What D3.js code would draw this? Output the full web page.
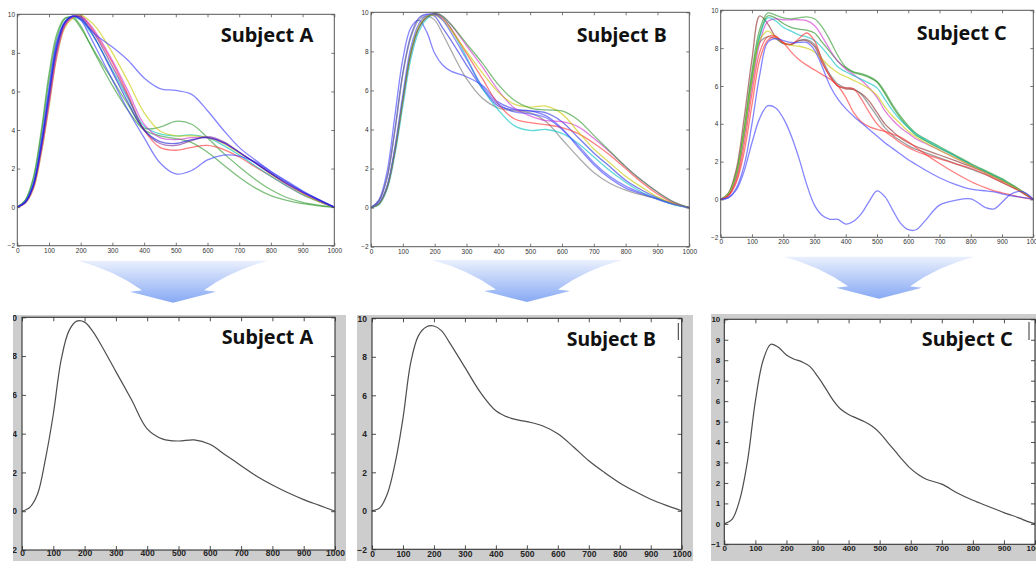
<!DOCTYPE html>
<html><head><meta charset="utf-8">
<script src="https://cdn.jsdelivr.net/npm/d3@7"></script>
<style>body{margin:0;background:#fff}svg{display:block}</style>
</head><body>
<svg id="c" width="1036" height="561"></svg>
<script>
// ---------------- DATA ----------------
const xTicks = [0,100,200,300,400,500,600,700,800,900,1000];
const yTicksTop = [-2,0,2,4,6,8,10];
const yTicksBottomAB = [-2,0,2,4,6,8,10];
const yTicksBottomC = [-1,0,1,2,3,4,5,6,7,8,9,10];
const subjectNames = ["Subject A","Subject B","Subject C"];

const gridAB = [0,25,50,75,100,125,150,175,200,225,250,300,350,400,450,500,550,600,650,700,750,800,850,900,950,1000];
const gridC = [0,25,50,75,100,125,150,175,200,225,250,275,300,325,350,375,400,425,450,475,500,525,550,575,600,625,650,700,750,800,850,875,900,925,950,975,1000];

// Subject A individual trials (top-left)
const colorsA = ["#2e9a2e","#2e9a2e","#ff3030","#00c0c0","#c8c800","#d030d0","#7a2a9a","#3a3aff","#3a3aff","#1a1ad0"];
const trialsA = [
  [0,0.35,1.5,3.9,6.9,9.0,9.8,9.8,9.3,8.6,7.9,6.6,5.3,4.1,4.15,4.45,4.3,3.6,2.8,2.1,1.45,0.9,0.5,0.25,0.1,0],
  [0,0.35,1.4,3.7,6.6,8.8,9.75,9.85,9.4,8.6,7.8,6.3,5.0,4.0,3.7,3.55,3.35,2.85,2.2,1.55,1.0,0.6,0.35,0.18,0.07,0],
  [0,0.25,1.0,2.9,5.4,8.0,9.4,9.85,9.9,9.5,8.9,7.5,5.8,4.0,3.1,2.95,3.1,3.2,3.0,2.6,2.1,1.6,1.1,0.65,0.3,0],
  [0,0.3,1.15,3.2,5.9,8.4,9.6,9.85,9.7,9.2,8.6,7.1,5.6,4.2,3.8,3.7,3.75,3.6,3.2,2.7,2.15,1.6,1.1,0.65,0.3,0],
  [0,0.2,0.9,2.7,5.2,7.8,9.3,9.8,9.95,9.7,9.3,8.0,6.5,4.9,3.95,3.7,3.7,3.6,3.3,2.8,2.3,1.7,1.2,0.7,0.3,0],
  [0,0.2,0.95,2.8,5.3,7.9,9.4,9.85,9.9,9.55,9.0,7.6,6.0,4.3,3.6,3.5,3.6,3.6,3.35,2.85,2.3,1.75,1.2,0.75,0.35,0],
  [0,0.25,1.05,3.0,5.6,8.2,9.5,9.9,9.85,9.4,8.8,7.3,5.7,4.0,3.3,3.2,3.45,3.65,3.4,2.85,2.3,1.75,1.2,0.75,0.35,0],
  [0,0.25,1.1,3.2,6.0,8.5,9.6,9.9,9.75,9.3,8.9,8.3,7.6,6.7,6.15,6.05,5.85,5.0,4.0,3.1,2.45,1.85,1.3,0.8,0.38,0],
  [0,0.3,1.2,3.4,6.2,8.6,9.6,9.9,9.7,9.0,8.2,6.6,5.0,3.6,2.3,1.72,1.9,2.45,2.7,2.65,2.35,1.85,1.35,0.85,0.4,0],
  [0,0.25,1.1,3.1,5.8,8.3,9.55,9.9,9.8,9.3,8.6,7.0,5.4,4.0,3.4,3.3,3.5,3.6,3.35,2.85,2.3,1.75,1.25,0.8,0.4,0]
];

// Subject B individual trials (top-middle)
const colorsB = ["#3a3aff","#2a2ae0","#777777","#00c0c0","#ff3030","#d030d0","#c8c800","#2e9a2e","#4a4aff"];
const trialsB = [
  [0,0.4,1.8,4.7,7.6,9.2,9.6,9.0,7.9,7.3,7.0,6.7,6.25,5.4,5.05,4.95,4.7,4.05,3.1,2.2,1.5,1.0,0.7,0.42,0.17,0],
  [0,0.35,1.5,4.0,6.9,8.8,9.7,9.9,9.8,9.2,8.6,7.3,6.1,5.2,5.0,4.95,4.85,4.4,3.6,2.8,2.1,1.4,0.9,0.5,0.2,0],
  [0,0.35,1.5,3.9,6.8,8.7,9.6,9.8,9.6,8.9,8.1,6.6,5.6,5.1,4.95,4.85,4.4,3.5,2.6,1.8,1.25,0.9,0.65,0.45,0.2,0],
  [0,0.15,0.9,2.7,5.2,7.6,9.0,9.65,9.9,9.75,9.2,7.7,6.1,5.0,4.2,3.95,4.0,3.8,3.3,2.6,1.9,1.3,0.8,0.45,0.15,0],
  [0,0.2,1.0,2.9,5.5,7.9,9.2,9.75,9.9,9.7,9.2,7.9,6.6,5.3,4.55,4.35,4.25,4.1,3.8,3.3,2.7,2.0,1.3,0.7,0.25,0],
  [0,0.2,1.0,2.9,5.5,7.9,9.2,9.75,9.95,9.8,9.4,8.3,7.2,6.0,5.1,4.7,4.45,4.4,4.15,3.55,2.85,2.1,1.4,0.8,0.3,0],
  [0,0.2,1.05,3.0,5.6,8.0,9.3,9.8,9.85,9.6,9.1,8.0,6.9,5.9,5.3,5.15,5.2,4.8,3.9,3.0,2.3,1.6,1.05,0.55,0.2,0],
  [0,0.2,1.0,2.9,5.5,7.9,9.2,9.75,9.95,9.8,9.4,8.4,7.4,6.3,5.5,5.1,5.0,4.95,4.5,3.7,2.9,2.1,1.4,0.8,0.3,0],
  [0,0.25,1.1,3.1,5.8,8.2,9.4,9.85,9.9,9.6,9.0,7.6,6.2,5.3,4.9,4.8,4.6,4.0,3.2,2.3,1.6,1.1,0.75,0.45,0.18,0]
];

// Subject C individual trials (top-right)
const colorsC = ["#8a2a2a","#666666","#2e9a2e","#1e8a1e","#d030d0","#00c0c0","#c8c800","#ff3030","#ff3030","#3a3aff","#3a3aff"];
const trialsC = [
  [0,0.35,1.6,4.3,7.4,9.7,9.3,8.6,8.25,8.2,8.4,8.4,8.1,7.2,6.5,6.0,5.85,5.8,5.6,5.2,4.6,4.0,3.6,3.25,3.0,2.8,2.65,2.35,2.05,1.75,1.4,1.2,1.0,0.8,0.55,0.3,0],
  [0,0.25,1.2,3.4,6.3,8.3,8.6,8.5,8.25,8.2,8.4,8.45,8.2,7.4,6.6,6.1,5.9,5.85,5.55,5.0,4.4,3.8,3.4,3.1,2.85,2.65,2.5,2.2,1.9,1.6,1.3,1.1,0.9,0.7,0.5,0.25,0],
  [0,0.3,1.4,3.8,6.8,9.0,9.85,9.75,9.6,9.55,9.6,9.65,9.55,9.1,8.4,7.6,7.0,6.75,6.65,6.5,6.25,5.7,5.0,4.4,3.9,3.5,3.25,2.8,2.35,1.9,1.5,1.3,1.1,0.85,0.6,0.3,0],
  [0,0.3,1.35,3.6,6.5,8.7,9.7,9.6,9.3,9.1,9.0,8.95,8.8,8.3,7.8,7.3,6.95,6.7,6.6,6.45,6.2,5.6,4.9,4.3,3.8,3.4,3.15,2.7,2.3,1.85,1.45,1.25,1.05,0.8,0.55,0.28,0],
  [0,0.25,1.2,3.3,6.0,8.3,9.4,9.55,9.5,9.5,9.5,9.45,9.2,8.6,7.9,7.3,6.9,6.6,6.3,5.9,5.4,4.7,4.2,3.8,3.5,3.2,3.0,2.6,2.2,1.8,1.4,1.2,1.0,0.78,0.55,0.28,0],
  [0,0.3,1.3,3.5,6.3,8.6,9.6,9.45,9.1,8.9,8.7,8.6,8.4,8.0,7.5,7.0,6.75,6.55,6.35,6.15,5.9,5.3,4.7,4.2,3.8,3.45,3.2,2.75,2.3,1.85,1.45,1.25,1.05,0.8,0.55,0.28,0],
  [0,0.3,1.3,3.5,6.3,8.4,8.9,8.6,8.3,8.15,8.1,8.0,7.8,7.4,7.0,6.7,6.5,6.3,6.1,5.85,5.5,4.9,4.4,4.0,3.6,3.3,3.05,2.6,2.2,1.8,1.4,1.2,1.0,0.78,0.55,0.28,0],
  [0,0.2,1.0,2.9,5.6,7.8,8.6,8.65,8.3,8.2,8.5,8.8,8.4,7.3,6.5,6.0,5.9,5.85,5.3,4.6,4.0,3.6,3.3,3.0,2.75,2.55,2.4,2.15,1.9,1.65,1.3,1.1,0.9,0.7,0.5,0.25,0],
  [0,0.2,0.9,2.5,5.0,7.4,8.4,8.6,8.3,7.8,7.4,7.1,6.85,6.6,6.35,6.0,5.4,4.6,4.1,3.85,3.7,3.6,3.45,3.3,3.05,2.75,2.45,1.9,1.4,0.95,0.6,0.45,0.35,0.25,0.15,0.07,0],
  [0,0.1,0.6,1.8,4.0,6.6,8.3,8.5,8.4,8.3,8.3,8.3,7.9,7.0,6.0,5.3,4.8,4.4,4.05,3.7,3.35,3.0,2.7,2.4,2.1,1.85,1.6,1.15,0.8,0.55,0.45,0.4,0.3,0.2,0.15,0.08,0],
  [0,0.1,0.5,1.5,3.0,4.3,4.95,4.85,4.3,3.4,2.2,0.8,-0.3,-0.85,-1.05,-1.05,-1.3,-1.15,-0.75,-0.1,0.45,0.15,-0.55,-1.25,-1.6,-1.6,-1.2,-0.3,-0.05,0.03,-0.45,-0.5,-0.15,0.25,0.42,0.35,0]
];

// Averaged curves (bottom row)
const meanA = [0,0.2,0.9,2.7,5.0,7.8,9.3,9.8,9.75,9.3,8.65,7.2,5.75,4.25,3.72,3.62,3.68,3.45,2.9,2.35,1.8,1.35,0.95,0.6,0.3,0];
const meanB = [0,0.15,0.9,2.5,4.8,7.7,9.1,9.55,9.6,9.35,8.75,7.45,6.15,5.2,4.8,4.63,4.42,4.0,3.33,2.6,2.0,1.45,1.0,0.6,0.28,0];
const meanC = [0,0.22,1.2,3.1,6.0,8.0,8.78,8.62,8.25,8.05,7.92,7.7,7.22,6.65,6.05,5.6,5.35,5.17,5.0,4.78,4.45,4.0,3.55,3.1,2.7,2.4,2.18,1.94,1.51,1.15,0.85,0.7,0.55,0.42,0.28,0.12,0];

// ---------------- LAYOUT ----------------
const panels = [
  {id:"tA", x0:17.3, x1:334.3, yTop:14.3, yBot:245.7, yDom:[-2,10], yTicks:yTicksTop, grid:gridAB, series:trialsA, colors:colorsA, top:true,
   title:subjectNames[0], tx:220.7, ty:41.7, tw:92.6},
  {id:"tB", x0:371, x1:689.3, yTop:12.3, yBot:246.7, yDom:[-2,10], yTicks:yTicksTop, grid:gridAB, series:trialsB, colors:colorsB, top:true,
   title:subjectNames[1], tx:576.7, ty:41.7, tw:90},
  {id:"tC", x0:720.7, x1:1033.3, yTop:10.3, yBot:237.3, yDom:[-2,10], yTicks:yTicksTop, grid:gridC, series:trialsC, colors:colorsC, top:true,
   title:subjectNames[2], tx:916.7, ty:39.6, tw:90},
  {id:"bA", x0:22, x1:335, yTop:317.3, yBot:550, yDom:[-2,10], yTicks:yTicksBottomAB, grid:gridAB, series:[meanA], colors:["#3a3a3a"], top:false,
   bg:[13,315,333,246], fs:8.5, title:subjectNames[0], tx:221.7, ty:344.3, tw:91.6, ypad:5, xpad:0},
  {id:"bB", x0:372, x1:681.7, yTop:318.3, yBot:549.3, yDom:[-2,10], yTicks:yTicksBottomAB, grid:gridAB, series:[meanB], colors:["#3a3a3a"], top:false,
   bg:[357,315,336,246], fs:8.5, title:subjectNames[1], tx:566.7, ty:346, tw:89.3, ypad:5, xpad:1.5, cursor:[678.3,323,340]},
  {id:"bC", x0:724.3, x1:1035, yTop:319.3, yBot:544.3, yDom:[-1,10], yTicks:yTicksBottomC, grid:gridC, series:[meanC], colors:["#3a3a3a"], top:false,
   bg:[711,314,325,247], fs:8, title:subjectNames[2], tx:921.7, ty:346, tw:91, ypad:4, xpad:1.5, cursor:[1029,322,340]}
];

const arrows = [
  {cx:173, top:260.7},
  {cx:527, top:260},
  {cx:879, top:256.7}
];

const svg = d3.select("#c");
const defs = svg.append("defs");
const grad = defs.append("linearGradient").attr("id","arrowGrad")
  .attr("x1",0).attr("y1",0).attr("x2",0).attr("y2",1);
grad.append("stop").attr("offset","0%").attr("stop-color","#eaf0fd");
grad.append("stop").attr("offset","100%").attr("stop-color","#87a9f4");

// arrows
arrows.forEach(a => {
  const c = a.cx, t = a.top;
  const p = d3.path();
  p.moveTo(c-95, t);
  p.lineTo(c+95, t);
  p.quadraticCurveTo(c+58, t+10, c+31, t+29.5);
  p.lineTo(c+43, t+31);
  p.lineTo(c, t+42);
  p.lineTo(c-43, t+31);
  p.lineTo(c-31, t+29.5);
  p.quadraticCurveTo(c-58, t+10, c-95, t);
  p.closePath();
  svg.append("path").attr("d", p.toString()).attr("fill","url(#arrowGrad)");
});

const fmt = d3.format("d");

panels.forEach(P => {
  const g = svg.append("g");
  if (P.bg) {
    defs.append("clipPath").attr("id", P.id+"clip").append("rect")
      .attr("x",P.bg[0]).attr("y",P.bg[1]).attr("width",P.bg[2]).attr("height",P.bg[3]);
    g.attr("clip-path", `url(#${P.id}clip)`);
    g.append("rect").attr("x",P.bg[0]).attr("y",P.bg[1]).attr("width",P.bg[2]).attr("height",P.bg[3])
      .attr("fill","#cdcdcd");
  }
  const x = d3.scaleLinear().domain([0,1000]).range([P.x0,P.x1]);
  const y = d3.scaleLinear().domain(P.yDom).range([P.yBot,P.yTop]);
  g.append("rect").attr("x",P.x0).attr("y",P.yTop).attr("width",P.x1-P.x0).attr("height",P.yBot-P.yTop)
    .attr("fill","#fff");

  const line = d3.line().x((d,i)=>x(P.grid[i])).y(d=>y(d)).curve(d3.curveCatmullRom.alpha(0.5));
  P.series.forEach((s,i) => {
    g.append("path").attr("d", line(s)).attr("fill","none")
      .attr("stroke", P.colors[i])
      .attr("stroke-width", P.top ? 1.3 : 1.2)
      .attr("stroke-opacity", P.top ? 0.62 : 0.9);
  });

  const tickLen = P.top ? 3 : 4;
  const fontSize = P.top ? 6.5 : P.fs;
  const fontWeight = P.top ? "normal" : "bold";
  const txtColor = P.top ? "#333" : "#222";
  const axColor = P.top ? "#555" : "#222";

  const xb = g.append("g").attr("transform",`translate(0,${P.yBot})`)
    .call(d3.axisBottom(x).tickValues(xTicks).tickFormat(fmt).tickSizeInner(-tickLen).tickSizeOuter(0).tickPadding(P.top?2.5:P.xpad));
  const xt = g.append("g").attr("transform",`translate(0,${P.yTop})`)
    .call(d3.axisTop(x).tickValues(xTicks).tickSizeInner(-tickLen).tickSizeOuter(0).tickFormat(""));
  const yl = g.append("g").attr("transform",`translate(${P.x0},0)`)
    .call(d3.axisLeft(y).tickValues(P.yTicks).tickFormat(fmt).tickSizeInner(-tickLen).tickSizeOuter(0).tickPadding(P.top?2.3:P.ypad));
  const yr = g.append("g").attr("transform",`translate(${P.x1},0)`)
    .call(d3.axisRight(y).tickValues(P.yTicks).tickSizeInner(-tickLen).tickSizeOuter(0).tickFormat(""));
  [xb,xt,yl,yr].forEach(a => {
    a.select(".domain").remove();
    a.selectAll(".tick line").attr("stroke",axColor).attr("stroke-width",0.8);
    a.selectAll(".tick text").attr("fill",txtColor).attr("font-size",fontSize)
      .attr("font-family","'Liberation Sans', Arial, sans-serif").attr("font-weight",fontWeight);
  });
  g.append("rect").attr("x",P.x0).attr("y",P.yTop).attr("width",P.x1-P.x0).attr("height",P.yBot-P.yTop)
    .attr("fill","none").attr("stroke", P.top ? "#555" : "#333").attr("stroke-width", P.top ? 1 : 1.1);

  svg.append("text").attr("x",P.tx).attr("y",P.ty)
    .attr("font-family","'Noto Sans', 'Open Sans', sans-serif").attr("font-weight","bold")
    .attr("font-size",20).attr("fill","#111")
    .attr("textLength",P.tw).attr("lengthAdjust","spacingAndGlyphs")
    .text(P.title);

  if (P.cursor) {
    svg.append("line").attr("x1",P.cursor[0]).attr("x2",P.cursor[0]).attr("y1",P.cursor[1]).attr("y2",P.cursor[2])
      .attr("stroke","#333").attr("stroke-width",1);
  }
});
</script>
</body></html>
